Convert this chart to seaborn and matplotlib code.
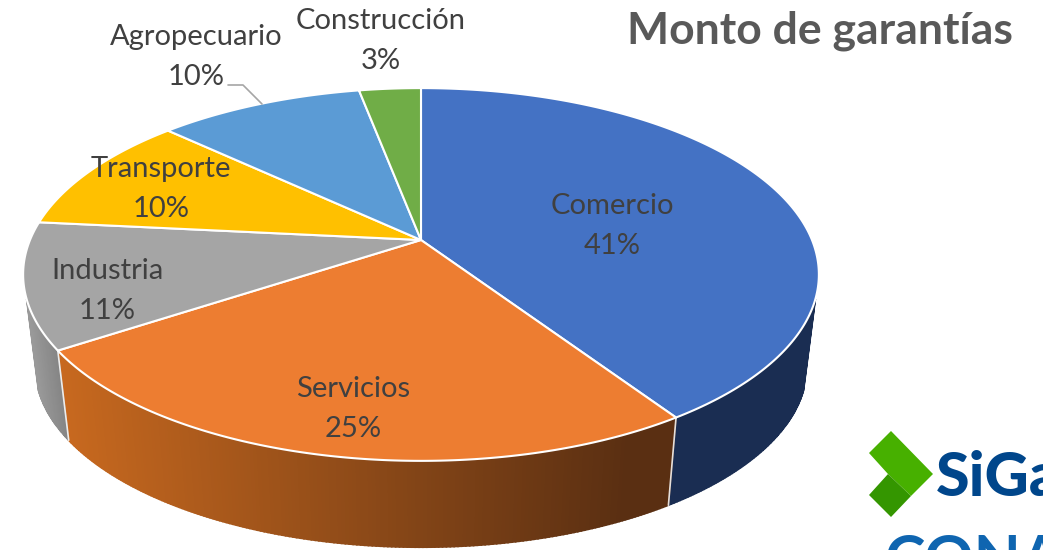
import numpy as np
import seaborn as sns
import matplotlib.pyplot as plt
from matplotlib.colors import to_rgb

sectors = ['Comercio', 'Servicios', 'Industria', 'Transporte', 'Agropecuario', 'Construcción']
shares = [40.7, 25.0, 10.9, 10.4, 10.0, 3.0]
colors = ['#4472C4', '#ED7D31', '#A5A5A5', '#FFC000', '#5B9BD5', '#70AD47']

sns.set_theme(style='white')
plt.rcParams['font.family'] = ['Lato', 'DejaVu Sans']
text_color = '#404040'

# pie geometry in pixels, apex of the slices sits above the ellipse centre (perspective)
cx, cy = 421, 240
a, b, k = 391, 180, 0.185
depth, shrink = 93, 0.97


def rim(theta, scale=1.0, drop=0.0):
    u, v = np.sin(theta), np.cos(theta)
    w = 1 + k * v
    return cx + scale * a * u / w, cy - scale * b * v / w + drop


fig = plt.figure(figsize=(10.43, 5.5), dpi=100, facecolor='white')
ax = fig.add_axes([0, 0, 1, 1])
ax.set_xlim(0, 1043)
ax.set_ylim(550, 0)
ax.axis('off')

edges = np.radians(np.cumsum([0] + shares) * 3.6)

# side wall, only the front part shows
wall_start, wall_end = np.radians(108), np.radians(252)
wall = np.linspace(wall_start, wall_end, 300)
for t0, t1 in zip(wall[:-1], wall[1:]):
    mid = (t0 + t1) / 2
    idx = np.searchsorted(edges, mid) - 1
    xt, yt = rim(np.array([t0, t1]))
    xl, yl = rim(np.array([t1, t0]), shrink, depth)
    f = (xt.mean() - 23) / 796
    if sectors[idx] == 'Comercio':
        c = '#1A2D52'
    elif sectors[idx] == 'Servicios':
        left, right = np.array(to_rgb('#C8691F')), np.array(to_rgb('#5A2F12'))
        c = left + (right - left) * min(1, (f - 0.04) / 0.72)
    else:
        left, right = np.array(to_rgb('#9C9C9C')), np.array(to_rgb('#7C7C7C'))
        c = left + (right - left) * min(1, f / 0.06)
    ax.fill(np.r_[xt, xl], np.r_[yt, yl], facecolor=c, edgecolor=c, lw=1.2)

# white seams where the slices meet on the wall
for e in edges:
    if wall_start < e < wall_end:
        x0, y0 = rim(e)
        x1, y1 = rim(e, shrink, depth)
        ax.plot([x0, x1], [y0, y1], color='white', lw=1.2, alpha=0.85)

# top face
for i, c in enumerate(colors):
    t = np.linspace(edges[i], edges[i + 1], 200)
    x, y = rim(t)
    ax.fill(np.r_[cx, x], np.r_[cy, y], facecolor=c, edgecolor='white', lw=1.5, joinstyle='round')

# leader line for Agropecuario
ax.plot([228, 243, 262], [85, 85, 104], color='#A6A6A6', lw=1.2)

label_pos = [(612, 226), (353, 409), (107, 291), (161, 189), (196, 57), (381, 41)]
for name, share, (lx, ly) in zip(sectors, shares, label_pos):
    ax.text(lx, ly, f'{name}\n{share:.0f}%', ha='center', va='center', fontsize=21,
            color=text_color, linespacing=1.63)

ax.text(1013, 31, 'Monto de garantías', ha='right', va='center', fontsize=32,
        fontweight='bold', color='#595959')

# logo in the corner, runs off the canvas
ax.fill([869, 891, 933, 911, 888], [453, 431, 474, 496, 474], color='#47B000', lw=0)
ax.fill([888, 911, 891, 869], [474, 496, 517, 495], color='#349600', lw=0)
ax.text(936, 496, 'SiGa', ha='left', va='baseline', fontsize=44, fontweight='black',
        color='#00468B', clip_on=True)
ax.text(885, 579, 'CONA', ha='left', va='baseline', fontsize=44, fontweight='bold',
        color='#0F65B0', clip_on=True)

fig.savefig('out.png', dpi=100)
